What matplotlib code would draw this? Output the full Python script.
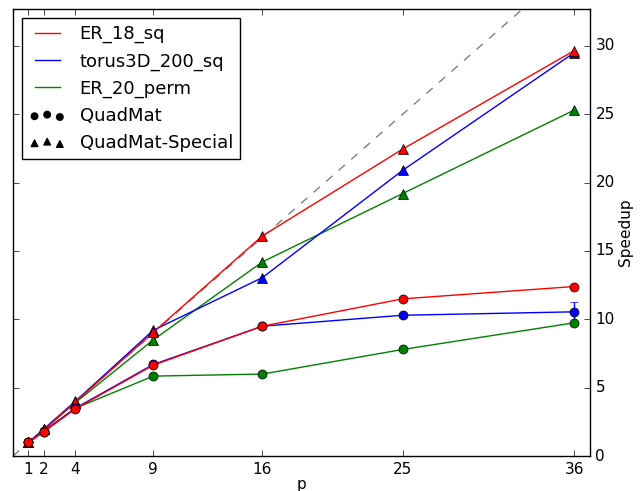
import matplotlib
matplotlib.use("Agg")
import matplotlib.pyplot as plt
import numpy as np

# processor counts
p = [1, 2, 4, 9, 16, 25, 36]

names = ["ER_18_sq", "torus3D_200_sq", "ER_20_perm"]
colors = ["r", "b", "g"]

# QuadMat speedups
quad_er18 = [1.0, 1.8, 3.45, 6.65, 9.5, 11.5, 12.4]
quad_torus = [1.0, 1.85, 3.5, 6.7, 9.5, 10.3, 10.55]
quad_er20 = [1.0, 1.8, 3.5, 5.85, 6.0, 7.8, 9.75]

# QuadMat-Special speedups
spec_er18 = [1.0, 1.95, 3.95, 9.05, 16.1, 22.45, 29.65]
spec_torus = [1.0, 2.0, 4.0, 9.2, 13.05, 20.9, 29.5]
spec_er20 = [1.0, 1.95, 3.9, 8.5, 14.2, 19.2, 25.3]

# error bars (only visible one is torus at p=36)
err_quad_torus = [0, 0, 0, 0, 0, 0.15, 0.7]


def main():
    plt.style.use("classic")
    fig = plt.figure(figsize=(6.44, 4.91), dpi=100, facecolor="white")
    ax = fig.add_axes([0.02, 0.071, 0.896, 0.911])

    ax.plot([0, 40], [0, 40], "--", color="grey")

    quads = [quad_er18, quad_torus, quad_er20]
    specs = [spec_er18, spec_torus, spec_er20]
    errs = [None, err_quad_torus, None]
    # draw red last so it sits on top, like the original
    rows = list(zip(names, colors, quads, specs, errs))[::-1]
    for name, c, q, s, e in rows:
        ax.errorbar(p, q, yerr=e, color=c, marker="o", ms=6.5, mec="k",
                    mfc=c, capsize=3, ecolor=c)
        ax.plot(p, s, color=c, marker="^", ms=6.5, mec="k", mfc=c)

    handles = []
    for name, c in zip(names, colors):
        h, = ax.plot([], [], color=c, label=name)
        handles.append(h)
    handles.append(ax.scatter([], [], c="k", marker="o", s=22,
                              label="QuadMat"))
    handles.append(ax.scatter([], [], c="k", marker="^", s=22,
                              label="QuadMat-Special"))
    ax.legend(handles=handles, loc="upper left", scatterpoints=3,
              numpoints=2, fontsize=13)

    ax.set_xlim(0, 37)
    ax.set_ylim(0, 32.7)
    ax.set_xticks(p)
    ax.set_yticks(range(0, 31, 5))
    ax.xaxis.set_ticks_position("both")
    ax.yaxis.set_ticks_position("both")
    ax.yaxis.set_label_position("right")
    ax.tick_params(labelleft=False, labelright=True, labelsize=11, pad=4)
    ax.set_xlabel("p", fontsize=11, labelpad=0)
    ax.set_ylabel("Speedup", fontsize=11, labelpad=2)

    fig.savefig("out.png", dpi=100, facecolor="white")


if __name__ == "__main__":
    main()
